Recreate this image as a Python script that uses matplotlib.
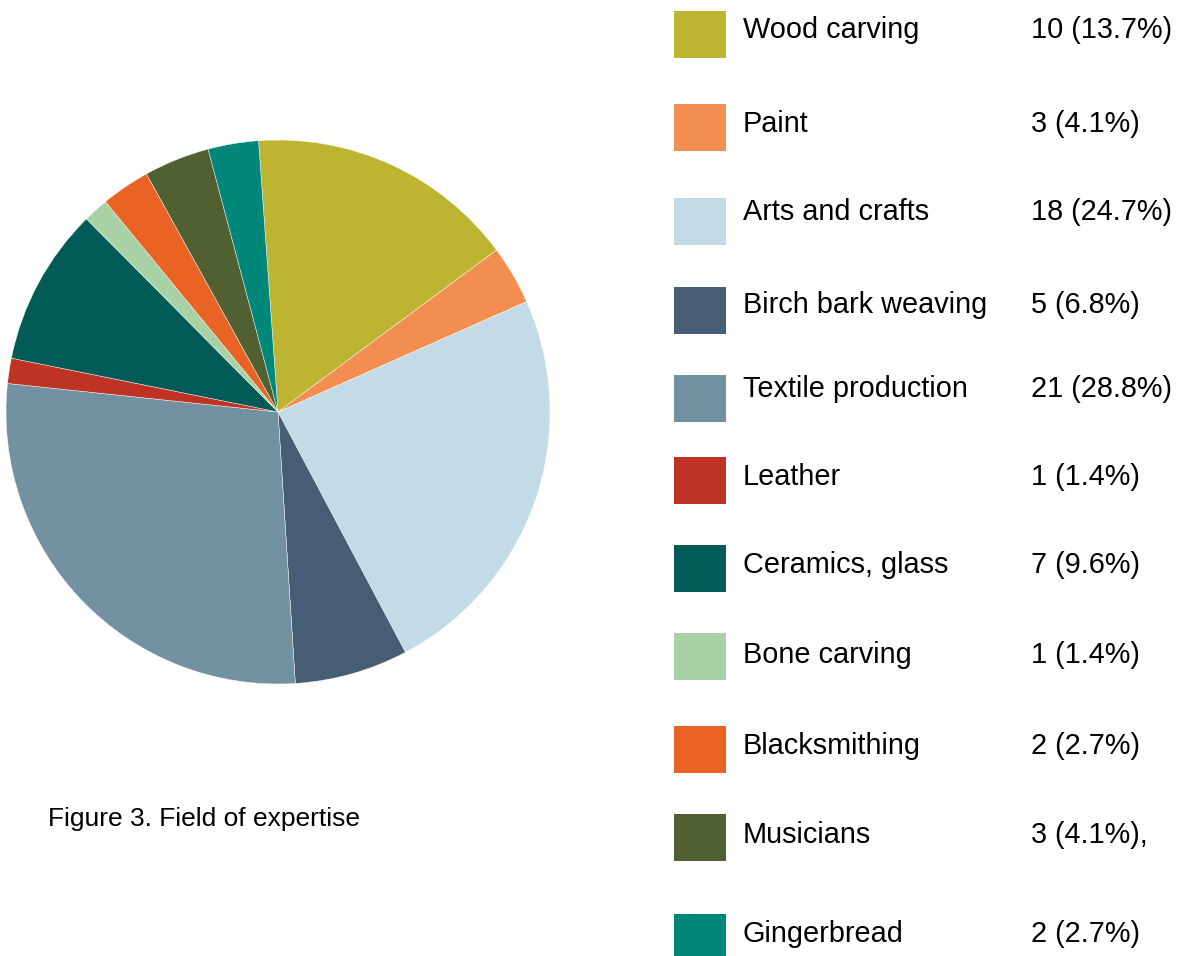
import matplotlib.pyplot as plt
from matplotlib.patches import Rectangle

# categories and values as shown in the legend
categories = ['Wood carving', 'Paint', 'Arts and crafts', 'Birch bark weaving',
              'Textile production', 'Leather', 'Ceramics, glass', 'Bone carving',
              'Blacksmithing', 'Musicians', 'Gingerbread']
value_labels = ['10 (13.7%)', '3 (4.1%)', '18 (24.7%)', '5 (6.8%)', '21 (28.8%)',
                '1 (1.4%)', '7 (9.6%)', '1 (1.4%)', '2 (2.7%)', '3 (4.1%),', '2 (2.7%)']
# slice shares as drawn in the pie (percent)
slice_shares = [16.0, 3.5, 23.9, 6.75, 27.7, 1.5, 9.4, 1.5, 2.9, 3.9, 3.0]
colors = ['#BDB531', '#F28E4F', '#C2DBE7', '#475D74', '#7291A1', '#BF3325',
          '#005A55', '#A8D2A5', '#E96325', '#516030', '#00877A']

W, H = 1181, 956
plt.rcParams['font.family'] = ['Liberation Sans', 'DejaVu Sans']

fig = plt.figure(figsize=(W / 100, H / 100), dpi=100)

# pie: centre (278, 412) px, radius 272 px
cx, cy, r = 278, 412, 272
ax = fig.add_axes([(cx - r) / W, (H - cy - r) / H, 2 * r / W, 2 * r / H])
ax.pie(slice_shares, colors=colors, startangle=94.1, counterclock=False,
       radius=1, wedgeprops=dict(edgecolor='white', linewidth=0.3))
ax.set_xlim(-1, 1)
ax.set_ylim(-1, 1)
ax.set_aspect('equal')
ax.axis('off')

# legend rows (pixel layout)
square_tops = [11, 104, 198, 287, 375, 457, 545, 633, 726, 814, 914]
text_baselines = [38, 132, 220, 313, 397, 485, 573, 663, 754, 843, 942]
for i, cat in enumerate(categories):
    fig.patches.append(Rectangle((674 / W, 1 - (square_tops[i] + 47) / H), 52 / W, 47 / H,
                                 transform=fig.transFigure, facecolor=colors[i],
                                 edgecolor='none'))
    fig.text(743 / W, 1 - text_baselines[i] / H, cat, fontsize=20.8,
             va='baseline', ha='left', color='black')
    fig.text(1031 / W, 1 - text_baselines[i] / H, value_labels[i], fontsize=20.8,
             va='baseline', ha='left', color='black')

fig.text(48 / W, 1 - 826 / H, 'Figure 3. Field of expertise', fontsize=19,
         va='baseline', ha='left', color='black')

fig.savefig('out.png', dpi=100)
